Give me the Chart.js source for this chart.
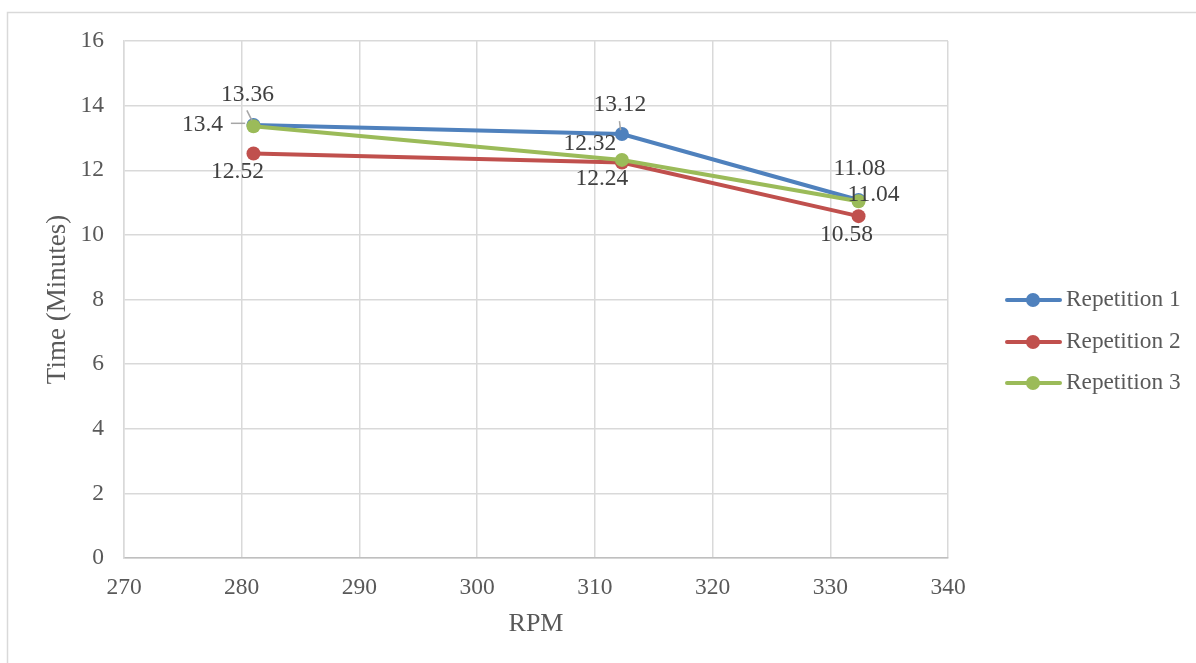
<!DOCTYPE html>
<html>
<head>
<meta charset="utf-8">
<script src="https://cdn.jsdelivr.net/npm/chart.js@4/dist/chart.umd.min.js"></script>
<style>
  html, body { margin: 0; padding: 0; background: #fff; }
  #wrap { width: 1196px; height: 663px; position: relative; }
</style>
</head>
<body>
<div id="wrap"><canvas id="rpmChart" width="1196" height="663"></canvas></div>
<script>
// Data
const rpm = [281, 312.3, 332.4];
const rep1 = [13.4, 13.12, 11.08];
const rep2 = [12.52, 12.24, 10.58];
const rep3 = [13.36, 12.32, 11.04];
const seriesNames = ["Repetition 1", "Repetition 2", "Repetition 3"];
const seriesColors = ["#4F81BD", "#C0504D", "#9BBB59"];

const serif = "'Liberation Serif', 'Times New Roman', serif";
const tickColor = "#595959";

function toPoints(values) {
    return values.map((v, i) => ({ x: rpm[i], y: v }));
}

// label offsets (dx, dy from the point) and optional leader lines
const labelPlacement = [
    { offs: [[-51, 0], [-2, -29], [1, -31]], leaders: [[[-22.6, -1.7], [-8.3, -1.7]], [[-2.5, -13], [-1.3, -4]], null] },
    { offs: [[-16, 18], [-20, 16], [-12, 18.5]], leaders: [null, null, null] },
    { offs: [[-6, -31.6], [-32, -15.7], [15, -6]], leaders: [[[-6.6, -16], [-1.6, -6]], null, null] },
];

// outer frame (only left and top edges show in the picture)
const framePlugin = {
    id: "frame",
    beforeDraw(chart) {
        const ctx = chart.ctx;
        ctx.save();
        ctx.fillStyle = "#fff";
        ctx.fillRect(0, 0, chart.width, chart.height);
        ctx.strokeStyle = "#d9d9d9";
        ctx.lineWidth = 1.5;
        ctx.beginPath();
        ctx.moveTo(7.5, chart.height);
        ctx.lineTo(7.5, 12.5);
        ctx.lineTo(chart.width, 12.5);
        ctx.stroke();
        ctx.restore();
    },
};

// value labels next to each point
const valueLabels = {
    id: "valueLabels",
    afterDatasetsDraw(chart) {
        const ctx = chart.ctx;
        ctx.save();
        ctx.font = "23.5px " + serif;
        ctx.fillStyle = "#404040";
        ctx.textAlign = "center";
        ctx.textBaseline = "middle";
        chart.data.datasets.forEach((ds, di) => {
            const meta = chart.getDatasetMeta(di);
            const place = labelPlacement[di];
            meta.data.forEach((pt, i) => {
                const lead = place.leaders[i];
                if (lead) {
                    ctx.strokeStyle = "#a6a6a6";
                    ctx.lineWidth = 1.5;
                    ctx.beginPath();
                    ctx.moveTo(pt.x + lead[0][0], pt.y + lead[0][1]);
                    ctx.lineTo(pt.x + lead[1][0], pt.y + lead[1][1]);
                    ctx.stroke();
                }
                const o = place.offs[i];
                ctx.fillText(String(ds.data[i].y), pt.x + o[0], pt.y + o[1]);
            });
        });
        ctx.restore();
    },
};

// legend on the right: line with a dot, then the name
const sideLegend = {
    id: "sideLegend",
    afterDraw(chart) {
        const ctx = chart.ctx;
        const rows = [300, 342, 383];
        ctx.save();
        chart.data.datasets.forEach((ds, i) => {
            const y = rows[i];
            ctx.strokeStyle = ds.borderColor;
            ctx.lineWidth = 4;
            ctx.lineCap = "round";
            ctx.beginPath();
            ctx.moveTo(1007, y);
            ctx.lineTo(1060, y);
            ctx.stroke();
            ctx.fillStyle = ds.borderColor;
            ctx.beginPath();
            ctx.arc(1033, y, 7, 0, Math.PI * 2);
            ctx.fill();
            ctx.fillStyle = tickColor;
            ctx.font = "23.3px " + serif;
            ctx.textAlign = "left";
            ctx.textBaseline = "middle";
            ctx.fillText(ds.label, 1066, y);
        });
        ctx.restore();
    },
};

function makeSeries(name, values, color, order) {
    return {
        label: name,
        data: toPoints(values),
        borderColor: color,
        backgroundColor: color,
        borderWidth: 4,
        pointRadius: 7,
        pointHoverRadius: 7,
        pointBorderWidth: 0,
        tension: 0,
        order: order,
    };
}

const ctx = document.getElementById("rpmChart").getContext("2d");
new Chart(ctx, {
    type: "line",
    data: {
        datasets: [
            makeSeries(seriesNames[0], rep1, seriesColors[0], 2),
            makeSeries(seriesNames[1], rep2, seriesColors[1], 1),
            makeSeries(seriesNames[2], rep3, seriesColors[2], 0),
        ],
    },
    options: {
        responsive: false,
        animation: false,
        devicePixelRatio: 1,
        layout: { padding: { top: 41, right: 248, bottom: 0, left: 0 } },
        plugins: {
            legend: { display: false },
            tooltip: { enabled: false },
        },
        scales: {
            x: {
                type: "linear",
                min: 270,
                max: 340,
                ticks: { stepSize: 10, padding: 16, color: tickColor, font: { family: serif, size: 23.5 } },
                grid: { color: "#d9d9d9", lineWidth: 1.5, drawTicks: false },
                border: { color: "#bfbfbf", width: 1.5 },
                title: {
                    display: true,
                    text: "RPM",
                    color: tickColor,
                    font: { family: serif, size: 26 },
                    padding: { top: 0, bottom: 23 },
                },
                afterFit(scale) { scale.height = 105; },
            },
            y: {
                min: 0,
                max: 16,
                ticks: { stepSize: 2, padding: 20, color: tickColor, font: { family: serif, size: 23.5 } },
                grid: { color: "#d9d9d9", lineWidth: 1.5, drawTicks: false },
                border: { color: "#d9d9d9", width: 1.5 },
                title: {
                    display: true,
                    text: "Time (Minutes)",
                    color: tickColor,
                    font: { family: serif, size: 27 },
                    padding: { top: 42, bottom: 0 },
                },
                afterFit(scale) { scale.width = 124; },
            },
        },
    },
    plugins: [framePlugin, valueLabels, sideLegend],
});
</script>
</body>
</html>
